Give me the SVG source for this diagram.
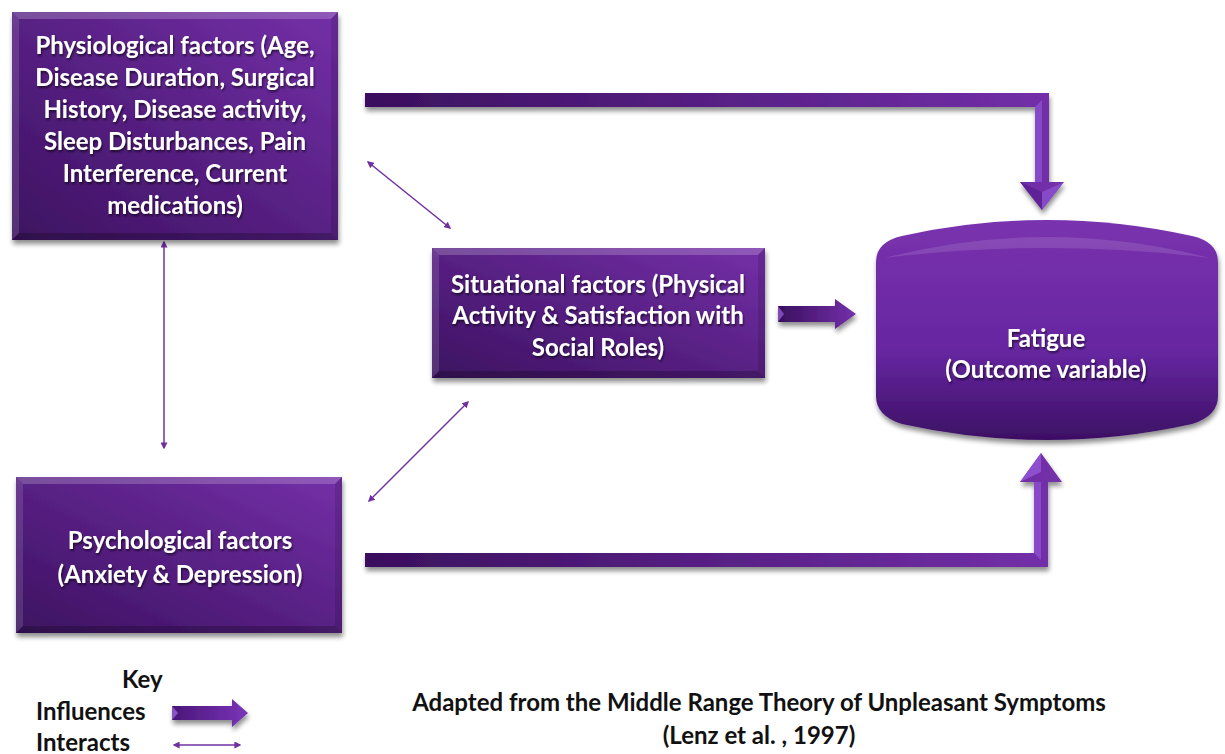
<svg xmlns="http://www.w3.org/2000/svg" width="1225" height="754" viewBox="0 0 1225 754">
  <style>
    .lbl { font-family: Lato, "Liberation Sans", sans-serif; font-weight: bold; font-size: 24px; fill: #ffffff; text-anchor: middle; }
    .key { font-family: Lato, "Liberation Sans", sans-serif; font-weight: bold; font-size: 24px; fill: #111111; }
    .cap { font-family: Lato, "Liberation Sans", sans-serif; font-weight: bold; font-size: 24px; fill: #111111; text-anchor: middle; }
    .thin { stroke: #7030a0; stroke-width: 1.5; fill: none; marker-start: url(#tip); marker-end: url(#tip); }
    .box { fill: url(#boxFill); filter: url(#shadow); }
    .bevL { fill: #ffffff; opacity: 0.12; }
    .bevT { fill: #ffffff; opacity: 0.2; }
    .bevR { fill: #000000; opacity: 0.12; }
    .bevB { fill: #000000; opacity: 0.22; }
  </style>
  <defs>
    <linearGradient id="boxFill" x1="0" y1="1" x2="1" y2="0">
      <stop offset="0" stop-color="#3c1160"/>
      <stop offset="1" stop-color="#7430a8"/>
    </linearGradient>
    <linearGradient id="cylFill" x1="0" y1="0" x2="0" y2="1">
      <stop offset="0" stop-color="#7a32ae"/>
      <stop offset="0.6" stop-color="#6626a0"/>
      <stop offset="1" stop-color="#3c1064"/>
    </linearGradient>
    <linearGradient id="barFill" x1="0" y1="0" x2="1" y2="0">
      <stop offset="0" stop-color="#3a0f5e"/>
      <stop offset="1" stop-color="#7430aa"/>
    </linearGradient>
    <linearGradient id="keyFill" x1="0" y1="0" x2="1" y2="0">
      <stop offset="0" stop-color="#4a1678"/>
      <stop offset="1" stop-color="#7a34b8"/>
    </linearGradient>
    <filter id="shadow" x="-10%" y="-10%" width="120%" height="130%">
      <feGaussianBlur in="SourceAlpha" stdDeviation="2.5"/>
      <feOffset dx="1" dy="4" result="b"/>
      <feComponentTransfer><feFuncA type="linear" slope="0.45"/></feComponentTransfer>
      <feMerge><feMergeNode/><feMergeNode in="SourceGraphic"/></feMerge>
    </filter>
    <filter id="txt" x="-5%" y="-20%" width="110%" height="150%">
      <feGaussianBlur in="SourceAlpha" stdDeviation="1"/>
      <feOffset dx="1" dy="1.5"/>
      <feComponentTransfer><feFuncA type="linear" slope="0.6"/></feComponentTransfer>
      <feMerge><feMergeNode/><feMergeNode in="SourceGraphic"/></feMerge>
    </filter>
    <marker id="tip" viewBox="0 0 10 10" refX="8" refY="5" markerWidth="7" markerHeight="7" orient="auto-start-reverse" markerUnits="userSpaceOnUse">
      <path d="M0,0 L10,5 L0,10 Z" fill="#7030a0"/>
    </marker>
  </defs>

  <rect width="1225" height="754" fill="#ffffff"/>

  <!-- connectors -->
  <g id="connectors">
    <!-- influence: physiological to fatigue -->
    <g filter="url(#shadow)">
      <path d="M365,93 L1049,93 L1049,182 L1064,182 L1042,210 L1020,182 L1035,182 L1035,107 L365,107 Z" fill="url(#barFill)"/>
      <path d="M1035,107 L1035,182 L1042,182 L1042,100 Z" fill="#8c4fd0" opacity="0.8"/>
      <path d="M1020,182 L1042,210 L1042,192 Z" fill="#5a1f92" opacity="0.8"/>
      <path d="M1064,182 L1042,210 L1042,192 Z" fill="#8e52d4" opacity="0.7"/>
    </g>
    <!-- influence: psychological to fatigue -->
    <g filter="url(#shadow)">
      <path d="M365,567 L1048,567 L1048,482 L1062,482 L1041,453 L1020,482 L1034,482 L1034,553 L365,553 Z" fill="url(#barFill)"/>
      <path d="M1034,482 L1034,553 L1041,560 L1041,482 Z" fill="#8c4fd0" opacity="0.8"/>
      <path d="M1020,482 L1041,453 L1041,472 Z" fill="#9358d8" opacity="0.8"/>
    </g>
    <!-- influence: situational to fatigue -->
    <g filter="url(#shadow)">
      <path d="M778,306 L835,306 L835,299 L856,314 L835,329 L835,322 L778,322 Z" fill="url(#barFill)"/>
      <path d="M778,306 L784,314 L778,322 Z" fill="#9a62d8" opacity="0.7"/>
    </g>
    <!-- interactions -->
    <line class="thin" x1="368" y1="162" x2="450" y2="228"/>
    <line class="thin" x1="164" y1="242" x2="164" y2="448"/>
    <line class="thin" x1="369" y1="501" x2="468" y2="402"/>
  </g>

  <!-- physiological factors -->
  <g id="physiological">
    <rect class="box" x="12" y="12" width="326" height="228"/>
    <polygon class="bevT" points="12,12 338,12 331,19 19,19"/>
    <polygon class="bevL" points="12,12 19,19 19,233 12,240"/>
    <polygon class="bevR" points="338,12 338,240 331,233 331,19"/>
    <polygon class="bevB" points="12,240 338,240 331,233 19,233"/>
    <g filter="url(#txt)">
      <text class="lbl" x="175" y="54">Physiological factors (Age,</text>
      <text class="lbl" x="175" y="86">Disease Duration, Surgical</text>
      <text class="lbl" x="175" y="118">History, Disease activity,</text>
      <text class="lbl" x="175" y="150">Sleep Disturbances, Pain</text>
      <text class="lbl" x="175" y="182">Interference, Current</text>
      <text class="lbl" x="175" y="214">medications)</text>
    </g>
  </g>

  <!-- situational factors -->
  <g id="situational">
    <rect class="box" x="432" y="248" width="333" height="130"/>
    <polygon class="bevT" points="432,248 765,248 758,255 439,255"/>
    <polygon class="bevL" points="432,248 439,255 439,371 432,378"/>
    <polygon class="bevR" points="765,248 765,378 758,371 758,255"/>
    <polygon class="bevB" points="432,378 765,378 758,371 439,371"/>
    <g filter="url(#txt)">
      <text class="lbl" x="598" y="293">Situational factors (Physical</text>
      <text class="lbl" x="598" y="324">Activity &amp; Satisfaction with</text>
      <text class="lbl" x="598" y="356">Social Roles)</text>
    </g>
  </g>

  <!-- psychological factors -->
  <g id="psychological">
    <rect class="box" x="16" y="477" width="326" height="156"/>
    <polygon class="bevT" points="16,477 342,477 335,484 23,484"/>
    <polygon class="bevL" points="16,477 23,484 23,626 16,633"/>
    <polygon class="bevR" points="342,477 342,633 335,626 335,484"/>
    <polygon class="bevB" points="16,633 342,633 335,626 23,626"/>
    <g filter="url(#txt)">
      <text class="lbl" x="180" y="549">Psychological factors</text>
      <text class="lbl" x="180" y="583">(Anxiety &amp; Depression)</text>
    </g>
  </g>

  <!-- fatigue outcome -->
  <g id="fatigue">
    <path d="M876,262 Q876,242 902,236 Q1047,204 1192,236 Q1218,242 1218,262 L1218,396 Q1218,416 1192,424 Q1047,456 902,424 Q876,416 876,396 Z" fill="url(#cylFill)" filter="url(#shadow)"/>
    <path d="M884,258 Q1047,216 1210,258 Q1047,238 884,258 Z" fill="#ffffff" opacity="0.12"/>
    <g filter="url(#txt)">
      <text class="lbl" x="1046" y="347">Fatigue</text>
      <text class="lbl" x="1046" y="378">(Outcome variable)</text>
    </g>
  </g>

  <!-- key -->
  <g id="legend">
    <text class="key" x="122" y="688">Key</text>
    <text class="key" x="36" y="720">Influences</text>
    <text class="key" x="36" y="751">Interacts</text>
    <g filter="url(#shadow)">
      <path d="M172,706 L232,706 L232,699 L248,713 L232,727 L232,720 L172,720 Z" fill="url(#keyFill)"/>
      <path d="M172,706 L178,713 L172,720 Z" fill="#a36ce0" opacity="0.7"/>
    </g>
    <line class="thin" x1="174" y1="745" x2="240" y2="745"/>
  </g>

  <!-- source note -->
  <g id="caption">
    <text class="cap" x="759" y="711">Adapted from the Middle Range Theory of Unpleasant Symptoms</text>
    <text class="cap" x="759" y="744">(Lenz et al. , 1997)</text>
  </g>
</svg>
